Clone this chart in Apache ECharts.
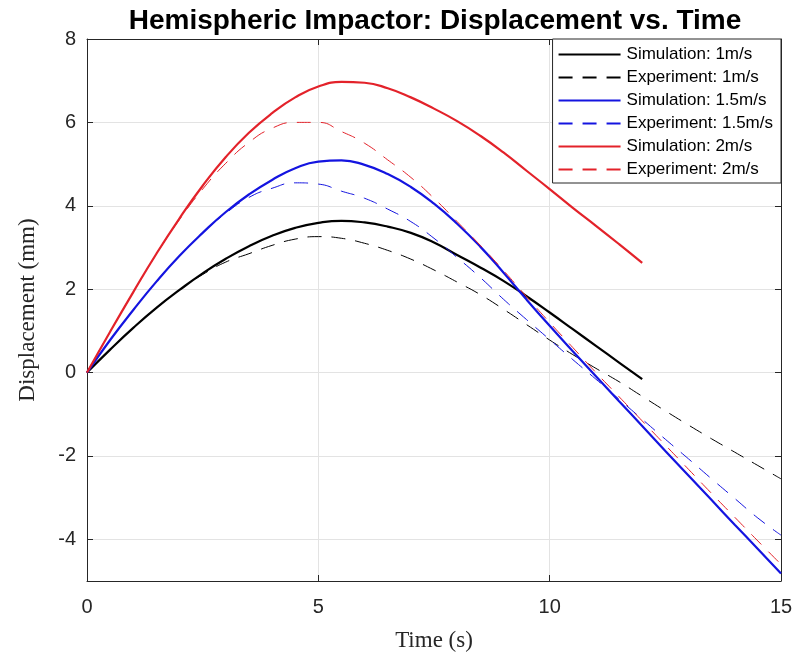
<!DOCTYPE html>
<html>
<head>
<meta charset="utf-8">
<script src="https://cdn.jsdelivr.net/npm/echarts@6/dist/echarts.min.js"></script>
<style>
  html, body { margin: 0; padding: 0; background: #fff; }
  #chart { width: 800px; height: 666px; }
</style>
</head>
<body>
<div id="chart"></div>
<script>
// time steps (s)
var time12 = [0, 0.5, 1, 1.5, 2, 2.5, 3, 3.5, 4, 4.5, 5, 5.5, 6, 6.5, 7, 7.5, 8, 8.5, 9, 9.5, 10, 10.5, 11, 11.5, 12]
var time15 = [0, 0.5, 1, 1.5, 2, 2.5, 3, 3.5, 4, 4.5, 5, 5.5, 6, 6.5, 7, 7.5, 8, 8.5, 9, 9.5, 10, 10.5, 11, 11.5, 12, 12.5, 13, 13.5, 14, 14.5, 15]

// displacement (mm)
var sim1 = [0, 0.55, 1.07, 1.55, 1.98, 2.38, 2.73, 3.03, 3.28, 3.47, 3.59, 3.64, 3.60, 3.50, 3.35, 3.12, 2.82, 2.52, 2.20, 1.83, 1.44, 1.04, 0.64, 0.24, -0.16]
var exp1 = [0, 0.55, 1.07, 1.55, 1.98, 2.35, 2.65, 2.85, 3.05, 3.20, 3.26, 3.22, 3.10, 2.93, 2.72, 2.46, 2.17, 1.87, 1.52, 1.15, 0.78, 0.43, 0.10, -0.22, -0.57, -0.92, -1.26, -1.59, -1.91, -2.23, -2.55]
var sim15 = [0, 0.78, 1.50, 2.18, 2.80, 3.35, 3.85, 4.27, 4.62, 4.90, 5.06, 5.09, 4.98, 4.76, 4.45, 4.05, 3.57, 3.02, 2.40, 1.75, 1.12, 0.51, -0.09, -0.69, -1.28, -1.88, -2.47, -3.06, -3.65, -4.23, -4.82]
var exp15 = [0, 0.78, 1.50, 2.18, 2.80, 3.35, 3.82, 4.20, 4.42, 4.55, 4.52, 4.35, 4.18, 3.92, 3.62, 3.22, 2.76, 2.28, 1.76, 1.27, 0.79, 0.31, -0.16, -0.64, -1.12, -1.60, -2.07, -2.55, -3.02, -3.49, -3.90]
var sim2 = [0, 0.98, 1.93, 2.85, 3.70, 4.48, 5.17, 5.75, 6.22, 6.60, 6.86, 6.97, 6.95, 6.82, 6.60, 6.33, 6.03, 5.68, 5.28, 4.84, 4.40, 3.95, 3.52, 3.08, 2.63]
var exp2 = [0, 0.98, 1.93, 2.84, 3.67, 4.40, 5.02, 5.52, 5.86, 6.00, 6.00, 5.78, 5.50, 5.10, 4.68, 4.18, 3.62, 3.05, 2.45, 1.82, 1.20, 0.60, 0.00, -0.58, -1.16, -1.74, -2.32, -2.90, -3.47, -4.04, -4.60]

var yTicks = [-4, -2, 0, 2, 4, 6, 8]

function pairs (t, v) {
  var out = []
  for (var i = 0; i < v.length; i++) out.push([t[i], v[i]])
  return out
}

var axisColor = '#262626'
var gridColor = '#e3e3e3'
var black = '#000000'
var blue = '#1414e0'
var red = '#e3222a'

function line (name, t, v, color, dashed) {
  return {
    name: name,
    type: 'line',
    symbol: 'none',
    smooth: true,
    data: pairs(t, v),
    lineStyle: dashed
      ? { color: color, width: 1, type: [14, 10] }
      : { color: color, width: 2.2 },
    itemStyle: { color: color }
  }
}

// box axes on top / right only carry inward ticks
function boxAxis (pos, extra) {
  var a = {
    type: 'value',
    position: pos,
    axisLine: { show: true, onZero: false, lineStyle: { color: axisColor } },
    axisTick: { show: true, inside: true, length: 6, lineStyle: { color: axisColor } },
    axisLabel: { show: false },
    splitLine: { show: false }
  }
  for (var k in extra) a[k] = extra[k]
  return a
}

var option = {
  animation: false,
  backgroundColor: '#fff',
  title: {
    text: 'Hemispheric Impactor: Displacement vs. Time',
    left: 430,
    top: 2,
    textAlign: 'center',
    textStyle: { fontFamily: 'Liberation Sans', fontWeight: 'bold', fontSize: 28, color: '#000' }
  },
  grid: { left: 87, right: 19, top: 39, bottom: 85 },
  legend: {
    orient: 'vertical',
    right: 19,
    top: 39,
    itemWidth: 62,
    itemHeight: 14,
    itemGap: 6,
    padding: [7, 8, 5, 5],
    borderColor: axisColor,
    borderWidth: 1,
    backgroundColor: '#fff',
    itemStyle: { opacity: 0 },
    textStyle: { fontFamily: 'Liberation Sans', fontSize: 17, color: '#000', padding: [0, 0, 0, 1] }
  },
  xAxis: [{
    type: 'value',
    min: 0,
    max: 15,
    interval: 5,
    name: 'Time (s)',
    nameLocation: 'middle',
    nameGap: 48,
    nameTextStyle: { fontFamily: 'Liberation Serif', fontSize: 23, color: axisColor },
    axisLine: { onZero: false, lineStyle: { color: axisColor } },
    axisTick: { inside: true, length: 6, lineStyle: { color: axisColor } },
    axisLabel: { margin: 16, fontFamily: 'Liberation Sans', fontSize: 20, color: axisColor },
    splitLine: { lineStyle: { color: gridColor } }
  }, boxAxis('top', { min: 0, max: 15, interval: 5 })],
  yAxis: [{
    type: 'value',
    min: -5,
    max: 8,
    name: 'Displacement (mm)',
    nameLocation: 'middle',
    nameGap: 48,
    nameTextStyle: { fontFamily: 'Liberation Serif', fontSize: 23, color: axisColor },
    axisLine: { show: true, onZero: false, lineStyle: { color: axisColor } },
    axisTick: { show: true, inside: true, length: 6, customValues: yTicks, lineStyle: { color: axisColor } },
    axisLabel: { margin: 11, customValues: yTicks, fontFamily: 'Liberation Sans', fontSize: 20, color: axisColor },
    splitLine: { lineStyle: { color: gridColor } }
  }, boxAxis('right', {
    min: -5,
    max: 8,
    axisTick: { show: true, inside: true, length: 6, customValues: yTicks, lineStyle: { color: axisColor } }
  })],
  series: [
    line('Simulation: 1m/s', time12, sim1, black, false),
    line('Experiment: 1m/s', time15, exp1, black, true),
    line('Simulation: 1.5m/s', time15, sim15, blue, false),
    line('Experiment: 1.5m/s', time15, exp15, blue, true),
    line('Simulation: 2m/s', time12, sim2, red, false),
    line('Experiment: 2m/s', time15, exp2, red, true)
  ]
}

var chart = echarts.init(document.getElementById('chart'))
chart.setOption(option)
</script>
</body>
</html>
